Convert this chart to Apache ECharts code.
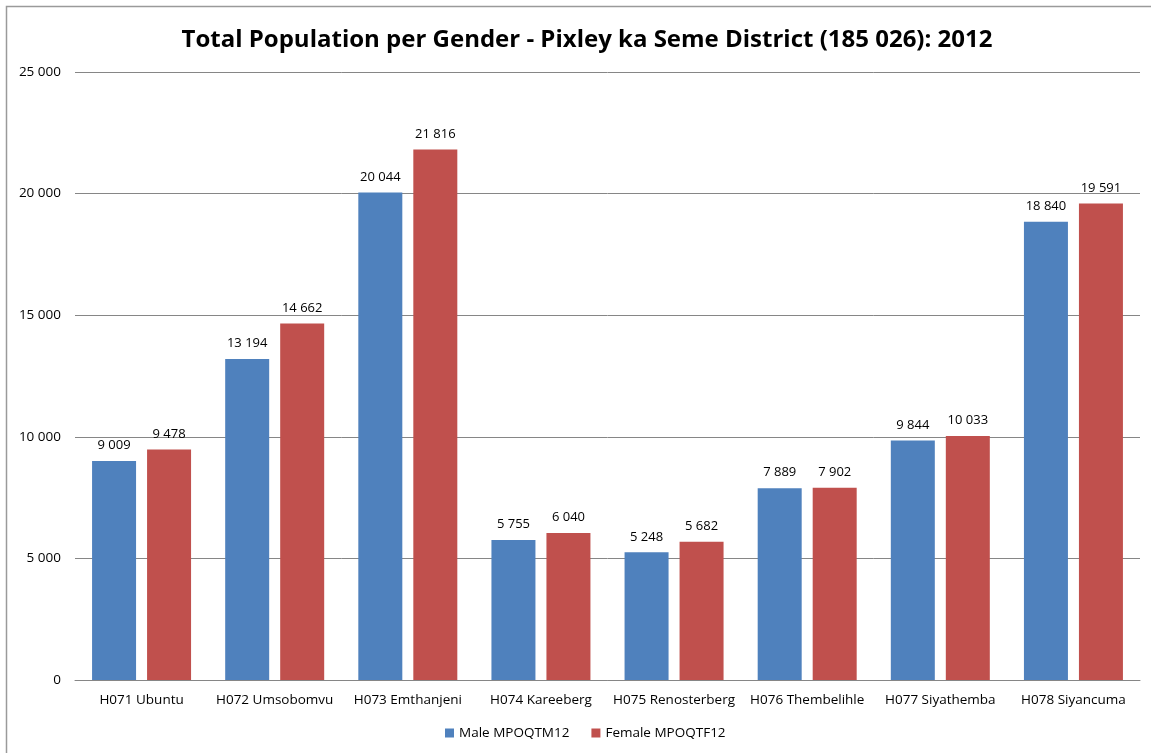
<!DOCTYPE html>
<html>
<head>
<meta charset="utf-8">
<script src="https://cdn.jsdelivr.net/npm/echarts@6/dist/echarts.min.js"></script>
<style>
  html, body { margin: 0; padding: 0; background: #fff; }
  #chart { width: 1151px; height: 753px; }
</style>
</head>
<body>
<div id="chart"></div>
<script>
var categories = ['H071 Ubuntu', 'H072 Umsobomvu', 'H073 Emthanjeni', 'H074 Kareeberg',
    'H075 Renosterberg', 'H076 Thembelihle', 'H077 Siyathemba', 'H078 Siyancuma'];
var maleValues = [9009, 13194, 20044, 5755, 5248, 7889, 9844, 18840];
var femaleValues = [9478, 14662, 21816, 6040, 5682, 7902, 10033, 19591];
var seriesNames = ['Male MPOQTM12', 'Female MPOQTF12'];

function fmt(v) {
    return String(v).replace(/\B(?=(\d{3})+(?!\d))/g, ' ');
}

var font = 'Open Sans';
var myChart = echarts.init(document.getElementById('chart'));

var option = {
    animation: false,
    textStyle: { fontFamily: font },
    title: {
        text: 'Total Population per Gender - Pixley ka Seme District (185 026): 2012',
        left: 582,
        top: 23,
        textAlign: 'center',
        textStyle: { fontFamily: font, fontSize: 24, fontWeight: 'bold', color: '#000' }
    },
    graphic: [{
        type: 'rect',
        shape: { x: 6.5, y: 6.5, width: 1160, height: 800 },
        style: { fill: 'none', stroke: '#9a9a9a', lineWidth: 1.5 },
        silent: true
    }],
    legend: {
        bottom: 8,
        left: 440,
        itemWidth: 9,
        itemHeight: 9,
        itemGap: 22,
        icon: 'rect',
        textStyle: { fontFamily: font, fontSize: 13.5, color: '#000' },
        data: seriesNames
    },
    grid: { left: 75, right: 11, top: 72, bottom: 73, containLabel: false },
    xAxis: {
        type: 'category',
        data: categories,
        axisTick: { show: false },
        axisLine: { lineStyle: { color: '#868686', width: 1 } },
        axisLabel: { color: '#000', fontSize: 13.5, margin: 13, interval: 0 }
    },
    yAxis: {
        type: 'value',
        min: 0,
        max: 25000,
        interval: 5000,
        axisLine: { show: false },
        axisTick: { show: false },
        splitLine: { lineStyle: { color: '#868686', width: 1 } },
        axisLabel: { color: '#000', fontSize: 13.5, margin: 14, formatter: fmt }
    },
    series: [{
        name: seriesNames[0],
        type: 'bar',
        data: maleValues,
        barWidth: 44,
        barGap: '25%',
        itemStyle: { color: '#4F81BD' },
        label: { show: true, position: 'top', distance: 9, color: '#000', fontSize: 13,
            formatter: function (p) { return fmt(p.value); } }
    }, {
        name: seriesNames[1],
        type: 'bar',
        data: femaleValues,
        barWidth: 44,
        itemStyle: { color: '#C0504D' },
        label: { show: true, position: 'top', distance: 9, color: '#000', fontSize: 13,
            formatter: function (p) { return fmt(p.value); } }
    }]
};

option && myChart.setOption(option);
</script>
</body>
</html>
